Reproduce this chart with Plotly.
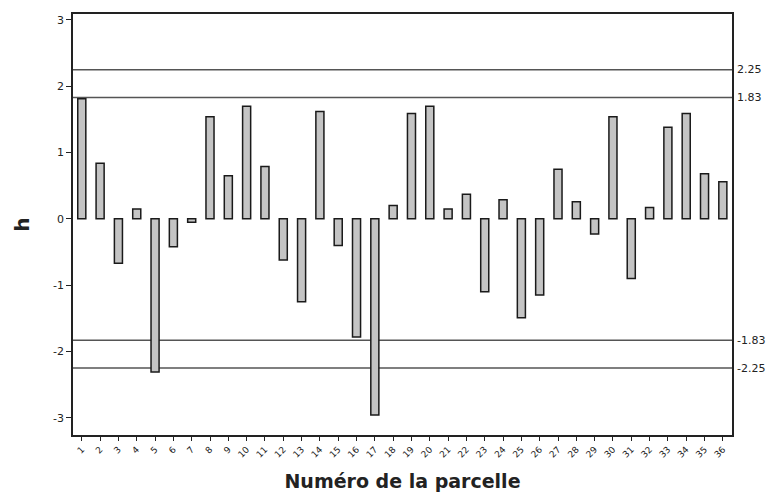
import plotly.graph_objects as go

parcelles = list(range(1, 37))
h_values = [1.81, 0.84, -0.67, 0.15, -2.31, -0.42, -0.05, 1.54, 0.65, 1.70,
            0.79, -0.62, -1.25, 1.62, -0.40, -1.78, -2.96, 0.20, 1.59, 1.70,
            0.15, 0.37, -1.10, 0.29, -1.49, -1.15, 0.75, 0.26, -0.23, 1.54,
            -0.90, 0.17, 1.38, 1.59, 0.68, 0.56]
limits = [2.25, 1.83, -1.83, -2.25]
limit_labels = ["2.25", "1.83", "-1.83", "-2.25"]
y_ticks = [-3, -2, -1, 0, 1, 2, 3]
y_tick_labels = ["-3", "-2", "-1", "0", "1", "2", "3"]

fig = go.Figure()
fig.add_trace(go.Bar(
    x=parcelles, y=h_values, width=0.44,
    marker=dict(color="#c4c4c4", line=dict(color="#1a1a1a", width=1.5)),
))

for v, lab in zip(limits, limit_labels):
    fig.add_shape(type="line", xref="paper", x0=0, x1=1, yref="y", y0=v, y1=v,
                  line=dict(color="#555555", width=1.5), layer="below")
    fig.add_annotation(xref="paper", x=1, yref="y", y=v, text=lab, showarrow=False,
                       xanchor="left", xshift=3, font=dict(size=11, color="#222222",
                       family="DejaVu Sans"))

fig.update_layout(
    width=779, height=493,
    margin=dict(l=73, r=47, t=14, b=58, autoexpand=False),
    paper_bgcolor="white", plot_bgcolor="white",
    showlegend=False,
    font=dict(family="DejaVu Sans", color="#222222"),
    xaxis=dict(
        range=[0.52, 36.5], tickmode="array", tickvals=parcelles,
        ticktext=[str(p) for p in parcelles], tickangle=-45,
        tickfont=dict(size=9), ticks="outside", ticklen=4, tickcolor="#222222",
        showline=True, linecolor="#222222", linewidth=1.5, mirror=True,
        showgrid=False, zeroline=False, automargin=False,
        title=dict(text="Numéro de la parcelle", font=dict(size=19, family="DejaVu Sans", weight="bold"),
                   standoff=16),
    ),
    yaxis=dict(
        range=[-3.26, 3.09], tickmode="array", tickvals=y_ticks, ticktext=y_tick_labels,
        tickfont=dict(size=11), ticks="outside", ticklen=5, tickcolor="#222222",
        showline=True, linecolor="#222222", linewidth=1.5, mirror=True,
        showgrid=False, zeroline=False, automargin=False,
        title=dict(text="h", font=dict(size=20, family="DejaVu Sans", weight="bold"),
                   standoff=18),
    ),
)

fig.write_html("out.html", config={"displayModeBar": False},
               post_script="document.body.style.margin='0';document.body.style.overflow='hidden';")
